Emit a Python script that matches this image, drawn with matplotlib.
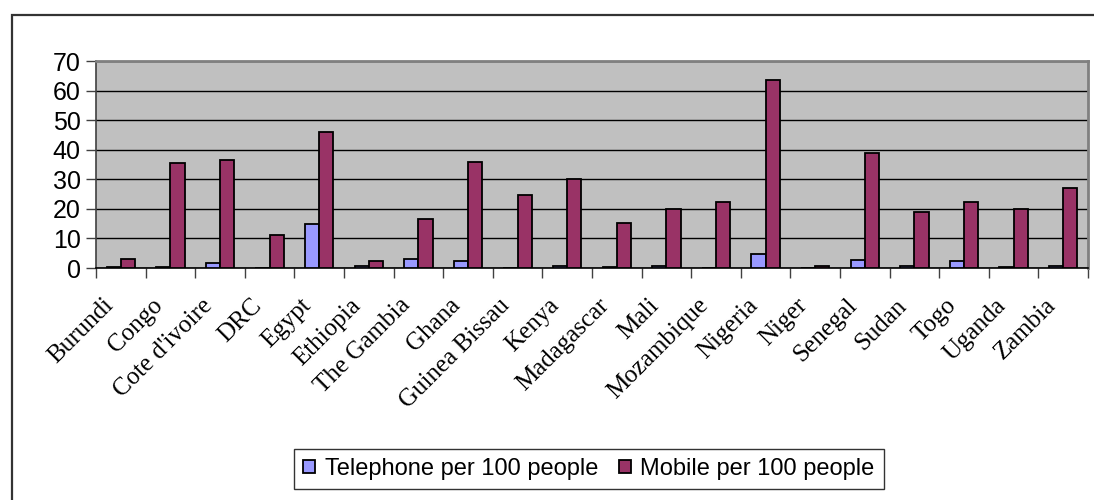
import matplotlib
matplotlib.use("Agg")
import matplotlib.pyplot as plt
import matplotlib.transforms as mtrans
import numpy as np
from matplotlib.patches import Rectangle

countries = ["Burundi", "Congo", "Cote d'ivoire", "DRC", "Egypt", "Ethiopia",
             "The Gambia", "Ghana", "Guinea Bissau", "Kenya", "Madagascar",
             "Mali", "Mozambique", "Nigeria", "Niger", "Senegal", "Sudan",
             "Togo", "Uganda", "Zambia"]
telephone = [0.5, 0.5, 1.6, 0.0, 15.0, 0.6, 3.2, 2.4, 0.0, 0.8, 0.5,
             0.6, 0.0, 4.8, 0.0, 2.6, 0.6, 2.5, 0.5, 0.6]
mobile = [3.2, 35.6, 36.5, 11.1, 46.0, 2.4, 16.7, 35.7, 24.7, 30.2, 15.2,
          19.8, 22.2, 63.5, 0.8, 38.8, 19.0, 22.2, 19.8, 27.0]
yticks = [0, 10, 20, 30, 40, 50, 60, 70]
series_labels = ["Telephone per 100 people", "Mobile per 100 people"]

W, H = 1094, 500
fig = plt.figure(figsize=(W / 100, H / 100), dpi=100)
fig.patch.set_facecolor("white")

# outer chart frame
fig.patches.append(Rectangle((12 / W, 1 - 560 / H), 1200 / W, 545 / H,
                             transform=fig.transFigure, fill=False,
                             edgecolor="#333333", linewidth=1.6))

ax = fig.add_axes([96 / W, 1 - 268 / H, (1088 - 96) / W, (268 - 61) / H])
ax.set_facecolor("#C0C0C0")

x = np.arange(len(countries))
bw = 1 / 3.5
b1 = ax.bar(x - bw / 2, telephone, bw, color="#9999FF", edgecolor="black",
            linewidth=1.3, label=series_labels[0], zorder=3)
b2 = ax.bar(x + bw / 2, mobile, bw, color="#993366", edgecolor="black",
            linewidth=1.3, label=series_labels[1], zorder=3)

ax.set_xlim(-0.5, len(countries) - 0.5)
ax.set_ylim(0, 70)
ax.set_yticks(yticks)
ax.set_yticklabels([str(v) for v in yticks], fontfamily="Liberation Sans",
                   fontsize=18)
ax.yaxis.grid(True, color="black", linewidth=1.0, zorder=1)
ax.set_axisbelow(True)
ax.tick_params(axis="y", direction="out", length=7, width=1, color="#404040",
               pad=4)

ax.set_xticks(x)
ax.set_xticklabels(countries, rotation=45, ha="right", va="top",
                   rotation_mode="anchor", fontfamily="Liberation Serif",
                   fontsize=18)
ax.tick_params(axis="x", which="major", length=0, pad=19)
shift = mtrans.ScaledTranslation(-19 / 100, 0, fig.dpi_scale_trans)
for lbl in ax.get_xticklabels():
    lbl.set_transform(lbl.get_transform() + shift)
ax.set_xticks(np.arange(-0.5, len(countries), 1.0), minor=True)
ax.tick_params(axis="x", which="minor", direction="out", length=7, width=1,
               color="#404040")

for side in ("top", "right"):
    ax.spines[side].set_color("#808080")
    ax.spines[side].set_linewidth(2)
ax.spines["left"].set_color("#404040")
ax.spines["left"].set_linewidth(1.2)
ax.spines["bottom"].set_color("black")
ax.spines["bottom"].set_linewidth(1.2)

leg = fig.legend(handles=[b1, b2], labels=series_labels, loc="center",
                 bbox_to_anchor=(589 / W, 1 - 469 / H), ncol=2,
                 frameon=True, fancybox=False, edgecolor="black",
                 prop={"family": "Liberation Sans", "size": 17},
                 handlelength=0.5, handleheight=0.5, handletextpad=0.4,
                 columnspacing=0.9, borderpad=0.4, borderaxespad=0)
leg.get_frame().set_linewidth(1.0)

fig.savefig("out.png", dpi=100)
